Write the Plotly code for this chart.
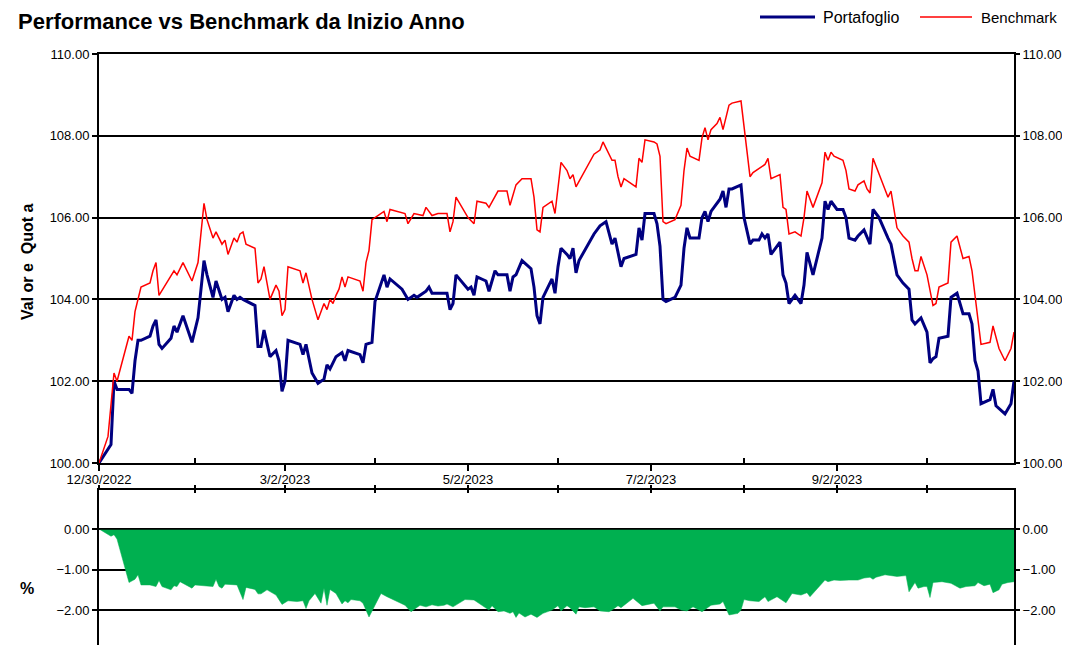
import plotly.graph_objects as go

# ---------------- data ----------------
port_dates = ["2022-12-30","2023-01-03","2023-01-04","2023-01-05","2023-01-09","2023-01-10","2023-01-11","2023-01-12","2023-01-13","2023-01-16",
"2023-01-17","2023-01-18","2023-01-19","2023-01-20","2023-01-23","2023-01-24","2023-01-25","2023-01-27","2023-01-30","2023-02-01",
"2023-02-03","2023-02-04","2023-02-06","2023-02-07","2023-02-09","2023-02-10","2023-02-11","2023-02-13","2023-02-14","2023-02-15",
"2023-02-16","2023-02-20","2023-02-21","2023-02-22","2023-02-23","2023-02-25","2023-02-27","2023-02-28","2023-03-01","2023-03-02",
"2023-03-03","2023-03-07","2023-03-08","2023-03-09","2023-03-11","2023-03-13","2023-03-15","2023-03-16","2023-03-17","2023-03-18",
"2023-03-19","2023-03-21","2023-03-22","2023-03-23","2023-03-27","2023-03-28","2023-03-29","2023-03-31","2023-04-01","2023-04-04",
"2023-04-05","2023-04-06","2023-04-10","2023-04-12","2023-04-14","2023-04-15","2023-04-18","2023-04-19","2023-04-20","2023-04-25",
"2023-04-26","2023-04-27","2023-04-28","2023-05-02","2023-05-03","2023-05-04","2023-05-05","2023-05-08","2023-05-09","2023-05-11",
"2023-05-12","2023-05-15","2023-05-16","2023-05-17","2023-05-18","2023-05-20","2023-05-23","2023-05-24","2023-05-25","2023-05-26",
"2023-05-27","2023-05-30","2023-05-31","2023-06-01","2023-06-02","2023-06-04","2023-06-05","2023-06-06","2023-06-07","2023-06-08",
"2023-06-13","2023-06-15","2023-06-17","2023-06-19","2023-06-20","2023-06-22","2023-06-23","2023-06-27","2023-06-28","2023-06-29",
"2023-06-30","2023-07-03","2023-07-04","2023-07-05","2023-07-06","2023-07-07","2023-07-10","2023-07-12","2023-07-13","2023-07-14",
"2023-07-15","2023-07-18","2023-07-19","2023-07-20","2023-07-21","2023-07-22","2023-07-25","2023-07-26","2023-07-27","2023-07-28",
"2023-07-29","2023-08-01","2023-08-02","2023-08-04","2023-08-05","2023-08-07","2023-08-08","2023-08-09","2023-08-10","2023-08-11",
"2023-08-14","2023-08-15","2023-08-16","2023-08-17","2023-08-19","2023-08-21","2023-08-22","2023-08-23","2023-08-25","2023-08-28",
"2023-08-29","2023-08-30","2023-08-31","2023-09-02","2023-09-04","2023-09-05","2023-09-06","2023-09-08","2023-09-09","2023-09-11",
"2023-09-12","2023-09-13","2023-09-14","2023-09-16","2023-09-19","2023-09-20","2023-09-22","2023-09-24","2023-09-26","2023-09-27",
"2023-09-28","2023-09-30","2023-10-02","2023-10-03","2023-10-04","2023-10-05","2023-10-06","2023-10-09","2023-10-10","2023-10-12",
"2023-10-14","2023-10-16","2023-10-17","2023-10-18","2023-10-19","2023-10-20","2023-10-23","2023-10-24","2023-10-25","2023-10-28",
"2023-10-30","2023-10-31"]
portafoglio = [100.0,100.45,102.0,101.8,101.8,101.7,102.5,103.0,103.0,103.1,
103.35,103.5,102.9,102.8,103.05,103.35,103.2,103.6,102.95,103.55,
104.95,104.6,104.05,104.45,104.0,104.05,103.7,104.1,104.0,104.05,
104.0,103.85,102.85,102.85,103.25,102.6,102.75,102.5,101.75,102.0,
103.0,102.9,102.65,102.9,102.2,101.95,102.05,102.4,102.3,102.45,
102.6,102.7,102.5,102.75,102.65,102.45,102.9,102.95,103.95,104.6,
104.3,104.5,104.25,104.0,104.1,104.05,104.2,104.3,104.15,104.15,
103.75,103.9,104.6,104.25,104.3,104.1,104.55,104.45,104.2,104.7,
104.6,104.6,104.2,104.55,104.6,104.95,104.75,104.3,103.6,103.4,
104.05,104.5,104.15,104.8,105.25,105.1,105.0,105.25,104.65,104.95,
105.6,105.8,105.9,105.35,105.5,104.8,105.0,105.1,105.75,105.45,
106.1,106.1,105.85,105.3,104.0,103.95,104.05,104.35,105.25,105.75,
105.5,105.5,106.0,106.15,105.9,106.15,106.45,106.65,106.25,106.7,
106.7,106.8,106.0,105.35,105.45,105.45,105.6,105.5,105.6,105.1,
105.4,104.6,104.4,103.9,104.1,103.9,104.35,105.15,104.6,105.5,
106.4,106.2,106.4,106.2,106.2,106.0,105.5,105.45,105.55,105.7,
105.5,105.35,106.2,106.0,105.5,105.35,104.6,104.4,104.25,103.5,
103.4,103.55,103.2,102.45,102.55,102.6,103.05,103.1,104.05,104.15,
103.65,103.65,103.4,102.5,102.25,101.45,101.55,101.8,101.4,101.2,
101.45,102.0]

bench_dates = ["2022-12-30","2023-01-02","2023-01-04","2023-01-05","2023-01-09","2023-01-10","2023-01-11","2023-01-13","2023-01-16","2023-01-17",
"2023-01-18","2023-01-19","2023-01-24","2023-01-25","2023-01-27","2023-01-30","2023-02-01","2023-02-03","2023-02-04","2023-02-06",
"2023-02-07","2023-02-09","2023-02-10","2023-02-11","2023-02-13","2023-02-14","2023-02-15","2023-02-16","2023-02-17","2023-02-20",
"2023-02-21","2023-02-22","2023-02-23","2023-02-25","2023-02-27","2023-02-28","2023-03-01","2023-03-02","2023-03-03","2023-03-07",
"2023-03-08","2023-03-09","2023-03-11","2023-03-13","2023-03-15","2023-03-16","2023-03-17","2023-03-18","2023-03-19","2023-03-20",
"2023-03-21","2023-03-22","2023-03-23","2023-03-27","2023-03-28","2023-03-29","2023-03-30","2023-03-31","2023-04-04","2023-04-05",
"2023-04-06","2023-04-11","2023-04-12","2023-04-14","2023-04-17","2023-04-18","2023-04-20","2023-04-22","2023-04-25","2023-04-26",
"2023-04-27","2023-04-28","2023-05-02","2023-05-04","2023-05-05","2023-05-08","2023-05-09","2023-05-12","2023-05-15","2023-05-16",
"2023-05-18","2023-05-20","2023-05-23","2023-05-24","2023-05-25","2023-05-26","2023-05-27","2023-05-30","2023-05-31","2023-06-02",
"2023-06-04","2023-06-05","2023-06-06","2023-06-07","2023-06-13","2023-06-15","2023-06-16","2023-06-19","2023-06-20","2023-06-21",
"2023-06-22","2023-06-23","2023-06-27","2023-06-28","2023-06-29","2023-06-30","2023-07-03","2023-07-04","2023-07-05","2023-07-06",
"2023-07-07","2023-07-10","2023-07-12","2023-07-13","2023-07-14","2023-07-15","2023-07-18","2023-07-19","2023-07-20","2023-07-21",
"2023-07-22","2023-07-24","2023-07-25","2023-07-26","2023-07-28","2023-07-29","2023-08-01","2023-08-02","2023-08-04","2023-08-05",
"2023-08-09","2023-08-10","2023-08-11","2023-08-14","2023-08-15","2023-08-16","2023-08-17","2023-08-19","2023-08-21","2023-08-22",
"2023-08-23","2023-08-25","2023-08-28","2023-08-29","2023-08-30","2023-08-31","2023-09-01","2023-09-04","2023-09-05","2023-09-06",
"2023-09-08","2023-09-09","2023-09-11","2023-09-12","2023-09-13","2023-09-14","2023-09-18","2023-09-19","2023-09-20","2023-09-22",
"2023-09-24","2023-09-26","2023-09-27","2023-09-28","2023-09-29","2023-09-30","2023-10-02","2023-10-04","2023-10-05","2023-10-06",
"2023-10-09","2023-10-10","2023-10-12","2023-10-14","2023-10-16","2023-10-17","2023-10-20","2023-10-23","2023-10-24","2023-10-26",
"2023-10-28","2023-10-30","2023-10-31"]
benchmark = [100.0,100.65,102.2,102.0,103.1,103.0,103.7,104.3,104.4,104.7,
104.9,104.1,104.7,104.6,104.9,104.45,104.9,106.35,105.95,105.5,
105.65,105.35,105.45,105.1,105.5,105.4,105.6,105.65,105.35,105.25,
104.4,104.5,104.8,104.0,104.35,104.2,103.6,103.75,104.8,104.7,
104.4,104.65,104.0,103.5,103.9,103.75,104.0,103.9,104.1,104.25,
104.55,104.3,104.55,104.45,104.2,104.9,105.2,105.95,106.15,105.9,
106.2,106.1,105.85,106.1,106.05,106.25,106.05,106.1,106.1,105.65,
105.9,106.5,106.0,105.85,106.4,106.35,106.25,106.65,106.65,106.3,
106.8,106.95,106.95,106.5,105.7,105.65,106.25,106.4,106.1,107.35,
107.15,106.95,107.05,106.75,107.55,107.65,107.85,107.4,107.4,107.0,
106.75,106.95,106.75,107.45,107.35,107.9,107.85,107.8,107.5,105.9,
105.85,105.95,106.3,107.15,107.7,107.5,107.4,107.95,108.2,107.9,
108.15,108.3,108.45,108.15,108.75,108.8,108.85,108.2,107.0,107.1,
107.3,107.45,106.95,107.05,106.25,106.2,105.6,105.65,105.55,106.0,
106.65,106.25,106.85,107.6,107.4,107.6,107.5,107.4,107.15,106.7,
106.65,106.8,106.9,106.7,106.6,107.45,106.7,106.5,106.65,105.75,
105.55,105.4,105.0,104.7,104.7,105.05,104.6,103.85,103.9,104.3,
104.4,105.4,105.55,105.0,105.05,104.7,102.9,102.95,103.35,102.8,
102.5,102.8,103.2]

diff_dates = ["2022-12-30","2023-01-02","2023-01-03","2023-01-04","2023-01-05","2023-01-09","2023-01-11","2023-01-12","2023-01-13","2023-01-16",
"2023-01-18","2023-01-19","2023-01-20","2023-01-23","2023-01-24","2023-01-25","2023-01-26","2023-01-30","2023-01-31","2023-02-06",
"2023-02-07","2023-02-08","2023-02-09","2023-02-10","2023-02-14","2023-02-16","2023-02-17","2023-02-20","2023-02-21","2023-02-22",
"2023-02-24","2023-02-27","2023-03-01","2023-03-03","2023-03-06","2023-03-08","2023-03-09","2023-03-10","2023-03-12","2023-03-14",
"2023-03-15","2023-03-16","2023-03-17","2023-03-19","2023-03-21","2023-03-22","2023-03-23","2023-03-24","2023-03-27","2023-03-28",
"2023-03-30","2023-04-03","2023-04-05","2023-04-11","2023-04-13","2023-04-16","2023-04-18","2023-04-20","2023-04-22","2023-04-24",
"2023-04-25","2023-04-27","2023-05-01","2023-05-04","2023-05-06","2023-05-09","2023-05-10","2023-05-12","2023-05-14","2023-05-16",
"2023-05-17","2023-05-18","2023-05-19","2023-05-21","2023-05-23","2023-05-25","2023-05-27","2023-05-30","2023-06-01","2023-06-02",
"2023-06-04","2023-06-05","2023-06-07","2023-06-08","2023-06-10","2023-06-13","2023-06-15","2023-06-18","2023-06-19","2023-06-21",
"2023-06-22","2023-06-26","2023-06-29","2023-07-03","2023-07-05","2023-07-06","2023-07-10","2023-07-12","2023-07-14","2023-07-16",
"2023-07-19","2023-07-22","2023-07-25","2023-07-26","2023-07-28","2023-07-31","2023-08-01","2023-08-02","2023-08-04","2023-08-07",
"2023-08-09","2023-08-10","2023-08-13","2023-08-16","2023-08-18","2023-08-21","2023-08-23","2023-08-24","2023-08-29","2023-08-30",
"2023-09-01","2023-09-03","2023-09-06","2023-09-09","2023-09-11","2023-09-13","2023-09-14","2023-09-15","2023-09-18","2023-09-22",
"2023-09-25","2023-09-26","2023-09-28","2023-09-29","2023-10-01","2023-10-02","2023-10-03","2023-10-04","2023-10-07","2023-10-10",
"2023-10-13","2023-10-15","2023-10-18","2023-10-19","2023-10-21","2023-10-23","2023-10-24","2023-10-26","2023-10-27","2023-10-29",
"2023-10-31"]
differenza = [0.0,-0.12,-0.18,-0.14,-0.25,-1.32,-1.24,-1.13,-1.38,-1.38,
-1.42,-1.27,-1.42,-1.5,-1.4,-1.42,-1.3,-1.46,-1.38,-1.42,
-1.24,-1.42,-1.46,-1.36,-1.38,-1.74,-1.44,-1.49,-1.6,-1.6,
-1.5,-1.63,-1.86,-1.77,-1.79,-1.77,-1.96,-1.77,-1.59,-1.83,
-1.46,-1.88,-1.49,-1.59,-1.85,-1.77,-1.82,-1.74,-1.77,-1.83,
-2.17,-1.59,-1.67,-1.88,-2.04,-1.88,-1.92,-1.87,-1.9,-1.88,
-1.85,-1.92,-1.74,-1.75,-1.85,-2.0,-1.89,-2.04,-2.02,-2.08,
-2.04,-2.18,-2.07,-2.17,-2.1,-2.18,-2.08,-2.0,-1.89,-2.02,
-1.89,-1.94,-2.1,-1.92,-1.94,-1.92,-2.02,-2.04,-2.0,-1.89,
-1.94,-1.71,-1.89,-1.83,-2.02,-1.92,-1.92,-2.0,-2.02,-1.92,
-2.04,-1.88,-1.85,-1.79,-2.12,-2.08,-2.0,-1.74,-1.77,-1.79,
-1.67,-1.79,-1.67,-1.82,-1.59,-1.63,-1.57,-1.67,-1.26,-1.3,
-1.26,-1.27,-1.26,-1.26,-1.21,-1.19,-1.24,-1.19,-1.13,-1.17,
-1.15,-1.55,-1.32,-1.46,-1.42,-1.42,-1.69,-1.32,-1.3,-1.34,
-1.46,-1.42,-1.4,-1.32,-1.4,-1.36,-1.57,-1.5,-1.36,-1.32,
-1.3]

major_tick_dates = ["2022-12-30", "2023-03-02", "2023-05-02", "2023-07-02", "2023-09-02"]
major_tick_labels = ["12/30/2022", "3/2/2023", "5/2/2023", "7/2/2023", "9/2/2023"]
minor_tick_dates = ["2023-01-31", "2023-04-01", "2023-06-01", "2023-08-02", "2023-10-02"]
x_range = ["2022-12-30", "2023-10-31"]
main_ticks = [100, 102, 104, 106, 108, 110]

# ---------------- style ----------------
FONT = "Liberation Sans, Arial, sans-serif"
W, H = 1070, 645
OFF = 8  # page body margin of the html page
# plot area in page pixels: left 99, right 1014, top 54, bottom 645
PL, PR, PT, PB = 99, 1014, 54, 645
ML, MT = PL - OFF, PT - OFF
MR = W - (PR - OFF)
MB = H - (PB - OFF)
PW, PH = PR - PL, PB - PT


def px_x(px):
    return (px - PL) / PW


def px_y(py):
    return (PB - py) / PH


main_dom = [px_y(463), 1.0]
sub_dom = [0.0, px_y(490)]

fig = go.Figure()
fig.add_trace(go.Scatter(x=port_dates, y=portafoglio, mode="lines", name="Portafoglio",
                         line=dict(color="#000080", width=3), xaxis="x", yaxis="y", showlegend=False))
fig.add_trace(go.Scatter(x=bench_dates, y=benchmark, mode="lines", name="Benchmark",
                         line=dict(color="#FF0000", width=1.5), xaxis="x", yaxis="y", showlegend=False))
fig.add_trace(go.Scatter(x=diff_dates, y=differenza, mode="lines", name="Differenza",
                         fill="tozeroy", fillcolor="#00B050", line=dict(color="#00B050", width=0.5),
                         xaxis="x2", yaxis="y2", showlegend=False))
# helper traces for the mirrored axes
fig.add_trace(go.Scatter(x=[], y=[], xaxis="x", yaxis="y3", showlegend=False))
fig.add_trace(go.Scatter(x=[], y=[], xaxis="x2", yaxis="y4", showlegend=False))
fig.add_trace(go.Scatter(x=[], y=[], xaxis="x3", yaxis="y2", showlegend=False))

tickfont = dict(family=FONT, size=13, color="black")
common_x = dict(type="date", range=x_range, tickvals=major_tick_dates, ticktext=major_tick_labels,
                showgrid=False, zeroline=False, showline=True, linecolor="black", linewidth=2,
                tickcolor="black", tickwidth=1.5, tickfont=tickfont, automargin=False)

fig.update_layout(
    width=W, height=H, template="none",
    paper_bgcolor="white", plot_bgcolor="white",
    margin=dict(l=ML, r=MR, t=MT, b=MB, pad=0),
    showlegend=False,
    title=dict(text="<b>Performance vs Benchmark da Inizio Anno</b>", x=(18 - OFF) / W, xref="container",
               xanchor="left", y=1 - (21 - OFF) / H, yref="container", yanchor="middle",
               font=dict(family=FONT, size=22, color="black")),
    xaxis=dict(common_x, domain=[0, 1], anchor="y", ticks="outside", ticklen=6, mirror=True,
               ticklabelstandoff=-3,
               minor=dict(tickvals=minor_tick_dates, ticks="inside", ticklen=5, tickwidth=1.5,
                          tickcolor="black", showgrid=False)),
    yaxis=dict(domain=main_dom, anchor="x", range=[100, 110], tickvals=main_ticks, tickformat=".2f",
               ticks="outside", ticklen=5, tickwidth=1.5, tickcolor="black",
               showgrid=True, gridcolor="black", gridwidth=1.5, zeroline=False,
               showline=True, linecolor="black", linewidth=2, mirror=True,
               tickfont=tickfont, automargin=False),
    yaxis3=dict(overlaying="y", side="right", anchor="x", range=[100, 110], tickvals=main_ticks,
                tickformat=".2f", ticks="outside", ticklen=5, tickwidth=1.5, tickcolor="black",
                showgrid=False, zeroline=False, showline=False, tickfont=tickfont, automargin=False),
    xaxis2=dict(common_x, domain=[0, 1], anchor="y2", side="top", showticklabels=False,
                ticks="outside", ticklen=3, mirror=False,
                minor=dict(tickvals=minor_tick_dates, ticks="outside", ticklen=3, tickwidth=1.5,
                           tickcolor="black", showgrid=False)),
    xaxis3=dict(common_x, overlaying="x2", anchor="y2", side="top", showticklabels=False,
                ticks="inside", ticklen=3, showline=False,
                minor=dict(tickvals=minor_tick_dates, ticks="inside", ticklen=3, tickwidth=1.5,
                           tickcolor="black", showgrid=False)),
    yaxis2=dict(domain=sub_dom, anchor="x2", range=[-2.86, 0.96], dtick=1, tick0=0, tickformat=".2f",
                ticks="outside", ticklen=5, tickwidth=1.5, tickcolor="black",
                showgrid=True, gridcolor="black", gridwidth=1.5, zeroline=False,
                showline=True, linecolor="black", linewidth=2, mirror=True,
                tickfont=tickfont, automargin=False),
    yaxis4=dict(overlaying="y2", side="right", anchor="x2", range=[-2.86, 0.96], dtick=1, tick0=0,
                tickformat=".2f", ticks="outside", ticklen=5, tickwidth=1.5, tickcolor="black",
                showgrid=False, zeroline=False, showline=False, tickfont=tickfont, automargin=False),
)

# zero line of the lower panel, drawn above the green area
fig.add_shape(type="line", xref="x2 domain", x0=0, x1=1, yref="y2", y0=0, y1=0,
              line=dict(color="black", width=1.5), layer="above")

# legend (top right)
leg_y = px_y(17)
fig.add_shape(type="line", xref="paper", yref="paper", x0=px_x(760), x1=px_x(815), y0=leg_y, y1=leg_y,
              line=dict(color="#000080", width=3))
fig.add_shape(type="line", xref="paper", yref="paper", x0=px_x(920), x1=px_x(972), y0=leg_y, y1=leg_y,
              line=dict(color="#FF0000", width=1.5))
fig.add_annotation(text="Portafoglio", xref="paper", yref="paper", x=px_x(821), y=leg_y,
                   xanchor="left", yanchor="middle", showarrow=False,
                   font=dict(family=FONT, size=16, color="black"))
fig.add_annotation(text="Benchmark", xref="paper", yref="paper", x=px_x(979), y=leg_y,
                   xanchor="left", yanchor="middle", showarrow=False,
                   font=dict(family=FONT, size=15, color="black"))

# axis titles
fig.add_annotation(text="<b>Val or e&nbsp; Quot a</b>", xref="paper", yref="paper", x=px_x(27), y=px_y(262),
                   xanchor="center", yanchor="middle", textangle=-90, showarrow=False,
                   font=dict(family=FONT, size=16, color="black"))
fig.add_annotation(text="<b>%</b>", xref="paper", yref="paper", x=px_x(27), y=px_y(588),
                   xanchor="center", yanchor="middle", showarrow=False,
                   font=dict(family=FONT, size=16, color="black"))

fig.write_html("out.html")
